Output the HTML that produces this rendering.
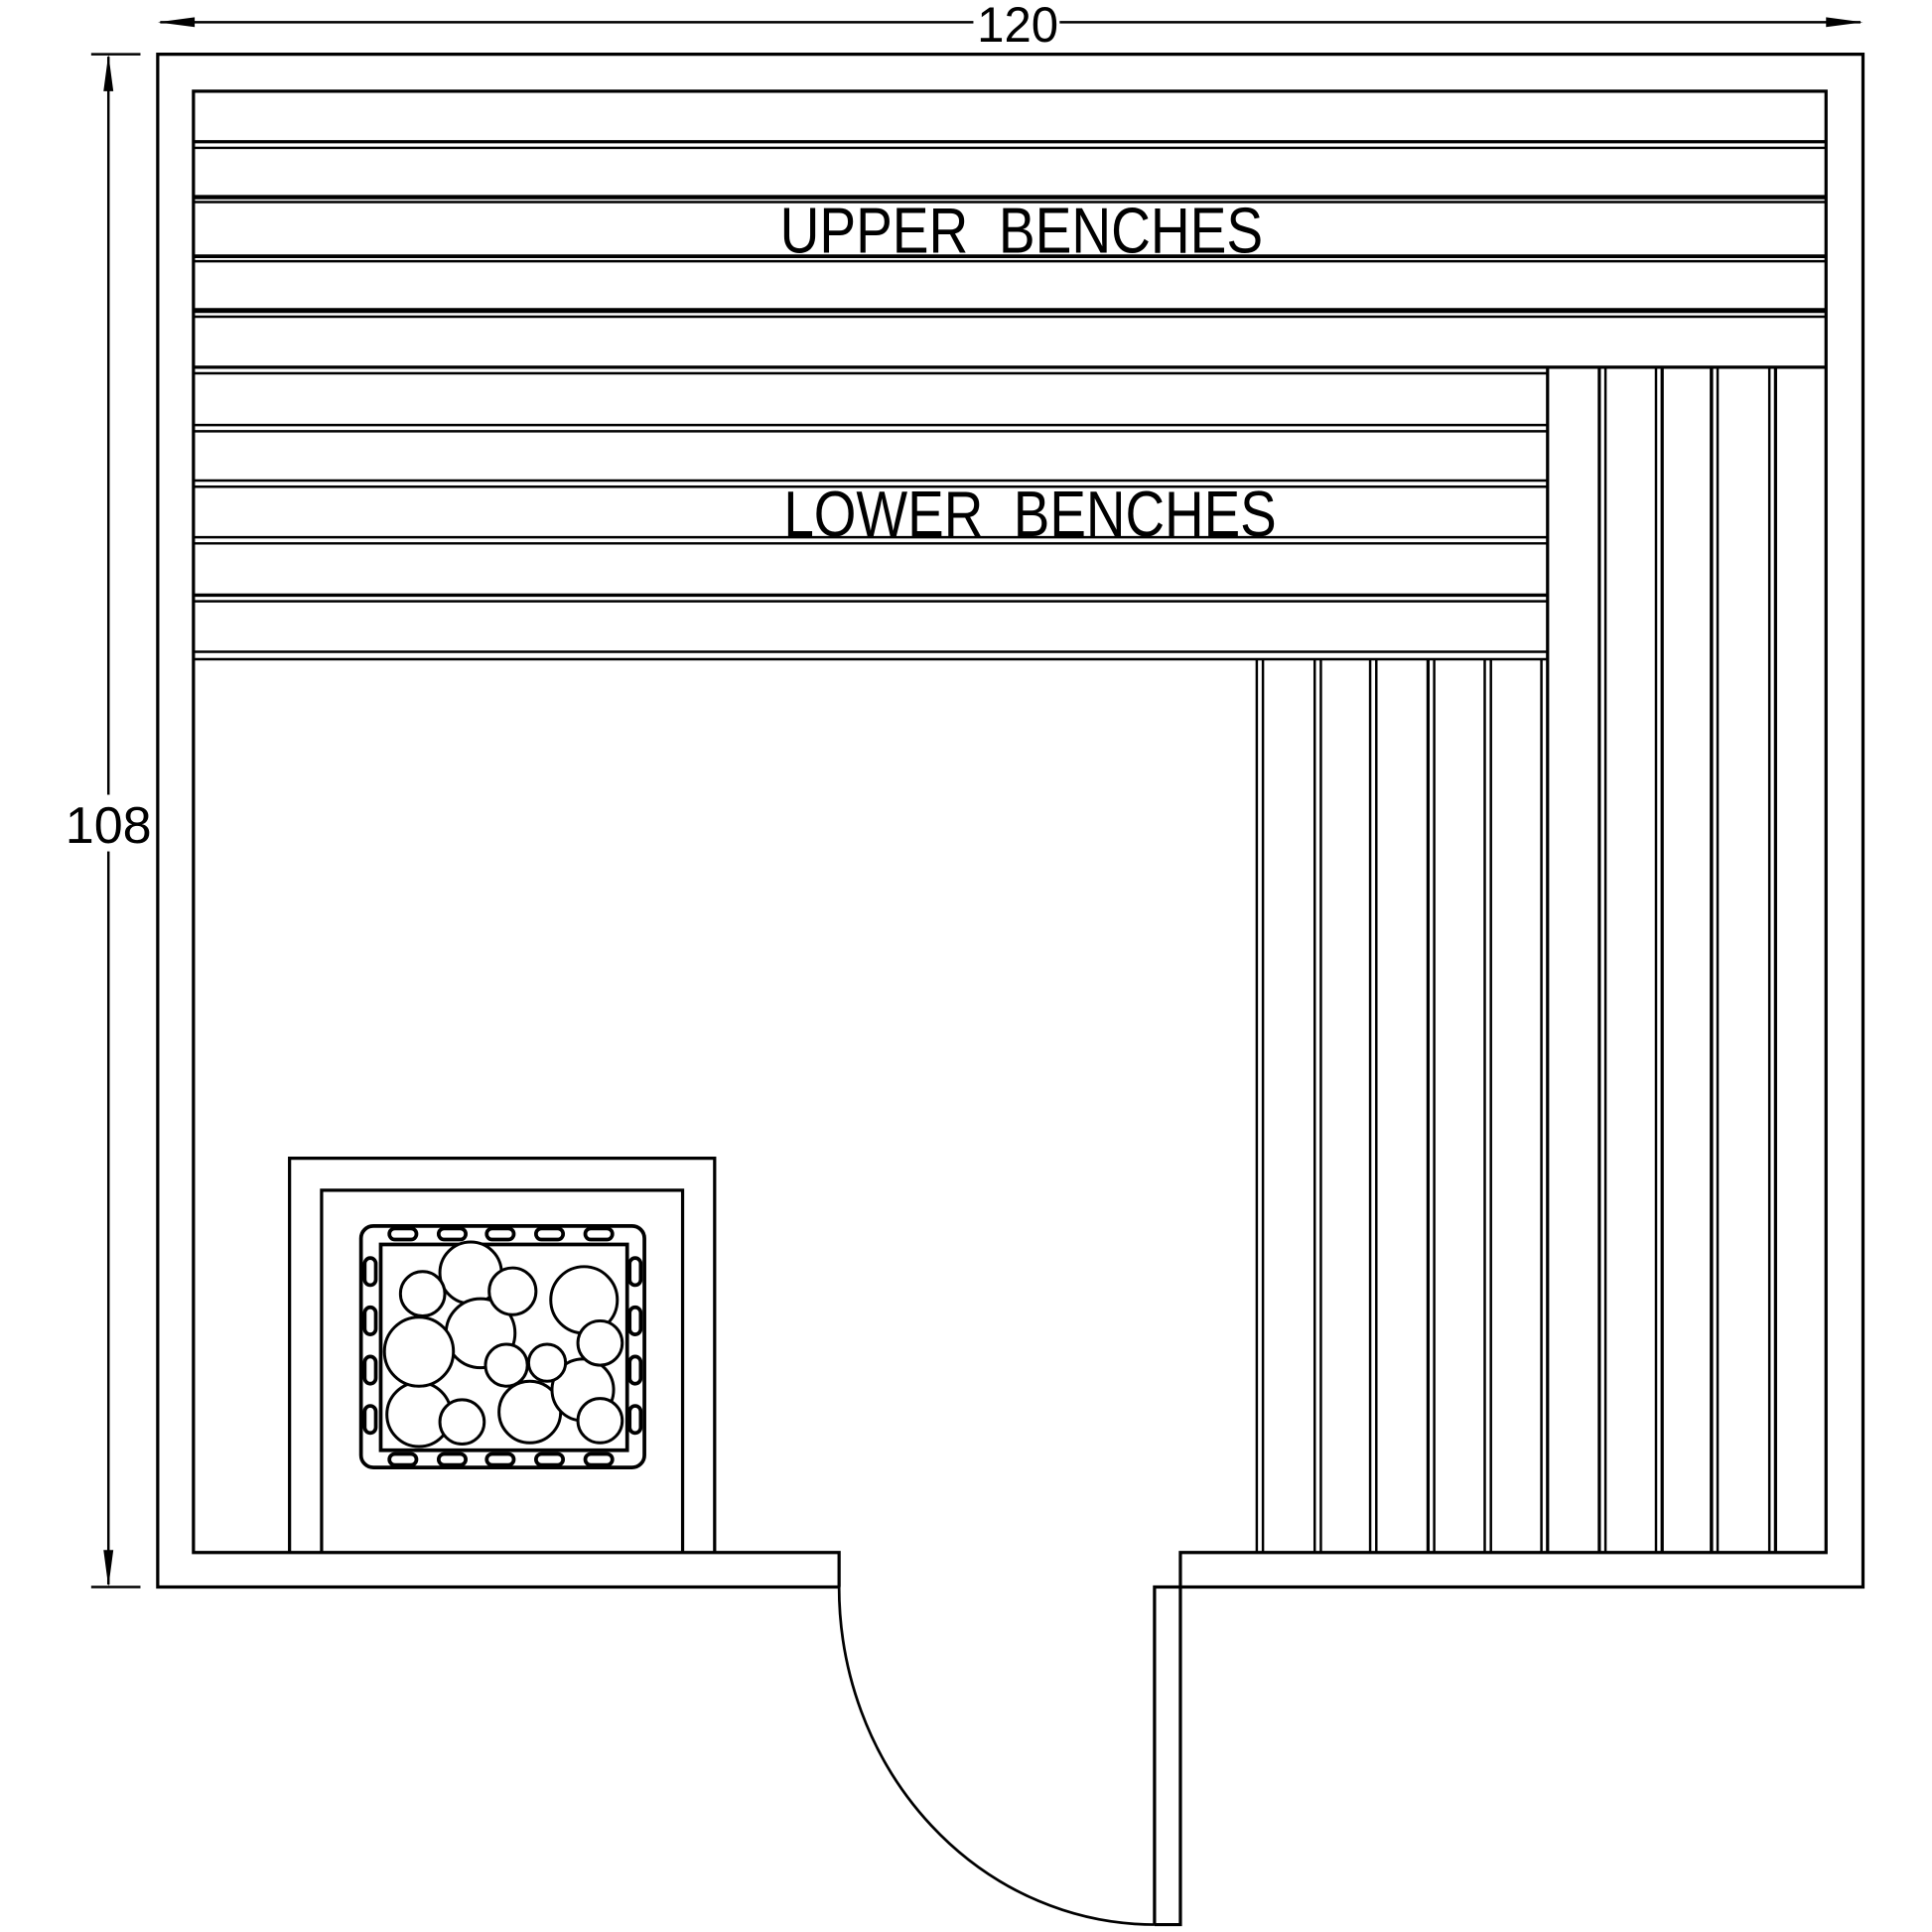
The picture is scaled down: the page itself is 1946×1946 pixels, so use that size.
<!DOCTYPE html>
<html><head><style>html,body{margin:0;padding:0;background:#fff}svg{display:block}</style></head>
<body>
<svg width="1946" height="1946" viewBox="0 0 1568 1568" xmlns="http://www.w3.org/2000/svg" fill="none" stroke="#000" stroke-width="2.6">
<!-- dimensions -->
<line x1="130" y1="18" x2="1510" y2="18" stroke-width="2"/>
<path d="M128 18 L158 14 L158 22 Z M1512 18 L1482 14 L1482 22 Z" fill="#000" stroke="none"/>
<line x1="88" y1="46" x2="88" y2="1286" stroke-width="2"/>
<path d="M88 44 L84 74 L92 74 Z M88 1288 L84 1258 L92 1258 Z" fill="#000" stroke="none"/>
<line x1="74" y1="44" x2="114" y2="44" stroke-width="2"/>
<line x1="74" y1="1288" x2="114" y2="1288" stroke-width="2"/>
<rect x="790" y="2" width="70" height="34" fill="#fff" stroke="none"/>
<text x="826" y="34" font-family="Liberation Sans, sans-serif" font-size="40" fill="#000" stroke="none" text-anchor="middle" textLength="66" lengthAdjust="spacingAndGlyphs">120</text>
<rect x="52" y="645" width="72" height="46" fill="#fff" stroke="none"/>
<text x="88" y="684" font-family="Liberation Sans, sans-serif" font-size="42" fill="#000" stroke="none" text-anchor="middle" textLength="70" lengthAdjust="spacingAndGlyphs">108</text>
<!-- walls -->
<path d="M681 1288 L128 1288 L128 44 L1512 44 L1512 1288 L937 1288 L937 1562"/>
<path d="M681 1288 L681 1260 L157 1260 L157 74 L1482 74 L1482 1260 L958 1260 L958 1562 L937 1562"/>
<path d="M681 1288 A256 274 0 0 0 937 1562" stroke-width="2.2"/>
<!-- upper bench slats -->
<g>
<line x1="157" y1="115" x2="1482" y2="115"/><line x1="157" y1="120" x2="1482" y2="120" stroke-width="2"/>
<line x1="157" y1="160" x2="1482" y2="160" stroke-width="3.5"/><line x1="157" y1="164" x2="1482" y2="164" stroke-width="2"/>
<line x1="157" y1="208" x2="1482" y2="208" stroke-width="3"/><line x1="157" y1="212" x2="1482" y2="212" stroke-width="2"/>
<line x1="157" y1="252" x2="1482" y2="252" stroke-width="4"/><line x1="157" y1="257" x2="1482" y2="257" stroke-width="2"/>
<line x1="157" y1="298" x2="1482" y2="298"/>
</g>
<!-- lower bench slats -->
<g stroke-width="2">
<line x1="157" y1="303" x2="1256" y2="303"/>
<line x1="157" y1="345" x2="1256" y2="345"/><line x1="157" y1="350" x2="1256" y2="350"/>
<line x1="157" y1="390" x2="1256" y2="390"/><line x1="157" y1="395" x2="1256" y2="395"/>
<line x1="157" y1="436" x2="1256" y2="436"/><line x1="157" y1="441" x2="1256" y2="441"/>
<line x1="157" y1="483" x2="1256" y2="483" stroke-width="2.8"/><line x1="157" y1="488" x2="1256" y2="488"/>
<line x1="157" y1="529" x2="1256" y2="529"/><line x1="157" y1="535" x2="1256" y2="535"/>
<line x1="1256" y1="298" x2="1256" y2="1260" stroke-width="2.6"/>
</g>
<!-- right vertical slats -->
<g>
<line x1="1298" y1="298" x2="1298" y2="1260"/><line x1="1303" y1="298" x2="1303" y2="1260" stroke-width="2"/>
<line x1="1344" y1="298" x2="1344" y2="1260" stroke-width="2"/><line x1="1349" y1="298" x2="1349" y2="1260"/>
<line x1="1389" y1="298" x2="1389" y2="1260" stroke-width="2.8"/><line x1="1394" y1="298" x2="1394" y2="1260" stroke-width="2"/>
<line x1="1436" y1="298" x2="1436" y2="1260" stroke-width="2"/><line x1="1441" y1="298" x2="1441" y2="1260"/>
</g>
<!-- lower vertical slats -->
<g stroke-width="2">
<line x1="1020" y1="535" x2="1020" y2="1260"/><line x1="1025" y1="535" x2="1025" y2="1260"/>
<line x1="1067" y1="535" x2="1067" y2="1260"/><line x1="1072" y1="535" x2="1072" y2="1260"/>
<line x1="1112" y1="535" x2="1112" y2="1260"/><line x1="1117" y1="535" x2="1117" y2="1260"/>
<line x1="1159" y1="535" x2="1159" y2="1260" stroke-width="2.6"/><line x1="1164" y1="535" x2="1164" y2="1260"/>
<line x1="1205" y1="535" x2="1205" y2="1260"/><line x1="1210" y1="535" x2="1210" y2="1260"/>
<line x1="1251" y1="535" x2="1251" y2="1260"/>
</g>
<!-- labels -->
<text x="633" y="205" font-family="Liberation Sans, sans-serif" font-size="52" fill="#000" stroke="none" textLength="392" lengthAdjust="spacingAndGlyphs">UPPER&#160; BENCHES</text>
<text x="636" y="435" font-family="Liberation Sans, sans-serif" font-size="52" fill="#000" stroke="none" textLength="400" lengthAdjust="spacingAndGlyphs">LOWER&#160; BENCHES</text>
<!-- heater -->
<path d="M235 1260 L235 940 L580 940 L580 1260"/>
<path d="M261 1260 L261 966 L554 966 L554 1260"/>
<rect x="293" y="995" width="230" height="196" rx="10" stroke-width="3"/>
<rect x="309" y="1010" width="200" height="167" stroke-width="3"/>
<g stroke-width="3" fill="#fff">
<rect x="316" y="997" width="22" height="9" rx="4.5"/><rect x="356" y="997" width="22" height="9" rx="4.5"/><rect x="395" y="997" width="22" height="9" rx="4.5"/><rect x="435" y="997" width="22" height="9" rx="4.5"/><rect x="475" y="997" width="22" height="9" rx="4.5"/>
<rect x="316" y="1180" width="22" height="9" rx="4.5"/><rect x="356" y="1180" width="22" height="9" rx="4.5"/><rect x="395" y="1180" width="22" height="9" rx="4.5"/><rect x="435" y="1180" width="22" height="9" rx="4.5"/><rect x="475" y="1180" width="22" height="9" rx="4.5"/>
<rect x="296" y="1021" width="9" height="22" rx="4.5"/><rect x="296" y="1061" width="9" height="22" rx="4.5"/><rect x="296" y="1101" width="9" height="22" rx="4.5"/><rect x="296" y="1141" width="9" height="22" rx="4.5"/>
<rect x="511" y="1021" width="9" height="22" rx="4.5"/><rect x="511" y="1061" width="9" height="22" rx="4.5"/><rect x="511" y="1101" width="9" height="22" rx="4.5"/><rect x="511" y="1141" width="9" height="22" rx="4.5"/>
</g>
<g stroke-width="2.4" fill="#fff">
<circle cx="382" cy="1033" r="25"/>
<circle cx="390" cy="1082" r="28"/>
<circle cx="340" cy="1148" r="26"/>
<circle cx="430" cy="1146" r="25"/>
<circle cx="473" cy="1128" r="25"/>
<circle cx="444" cy="1106" r="15"/>
<circle cx="343" cy="1050" r="18"/>
<circle cx="416" cy="1048" r="19"/>
<circle cx="474" cy="1055" r="27"/>
<circle cx="340" cy="1097" r="28"/>
<circle cx="487" cy="1090" r="18"/>
<circle cx="411" cy="1108" r="17"/>
<circle cx="375" cy="1154" r="18"/>
<circle cx="487" cy="1153" r="18"/>
</g>
</svg>
</body></html>
